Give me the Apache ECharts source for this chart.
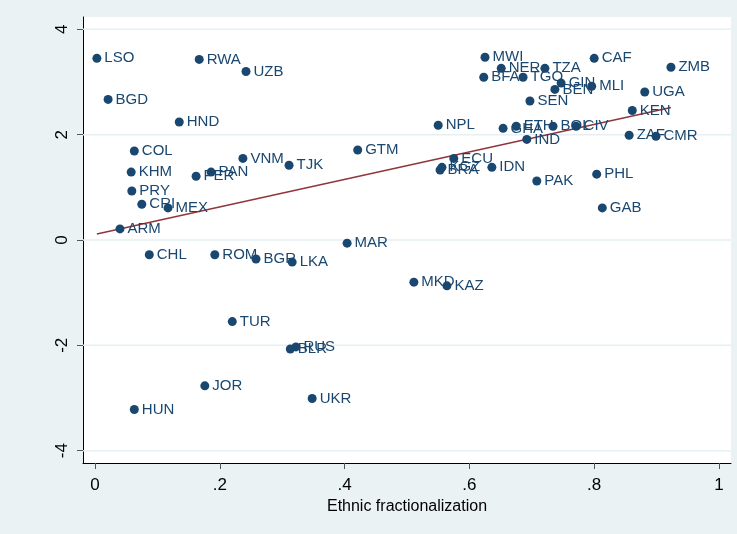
<!DOCTYPE html>
<html>
<head>
<meta charset="utf-8">
<script src="https://cdn.jsdelivr.net/npm/echarts@6/dist/echarts.min.js"></script>
<style>html,body{margin:0;padding:0;background:#eaf2f3;}#c{width:737px;height:534px;}</style>
</head>
<body>
<div id="c"></div>
<script>
const countries = ["LSO","RWA","UZB","BGD","HND","COL","KHM","PRY","CRI","MEX","ARM","PER","PAN","VNM","TJK","GTM","CHL","ROM","BGR","LKA","MAR","MKD","KAZ","TUR","RUS","BLR","JOR","UKR","HUN","NPL","MWI","NER","BFA","TGO","TZA","CAF","GIN","BEN","MLI","SEN","ZMB","UGA","KEN","GHA","ETH","BOL","CIV","IND","ZAF","CMR","PHL","GAB","PAK","ECU","KGZ","BRA","IDN"];
const ethnicFrac = [0.003,0.167,0.242,0.021,0.135,0.063,0.058,0.059,0.075,0.117,0.040,0.162,0.186,0.237,0.311,0.421,0.087,0.192,0.258,0.316,0.404,0.511,0.564,0.220,0.322,0.313,0.176,0.348,0.063,0.550,0.625,0.651,0.623,0.686,0.721,0.800,0.747,0.737,0.796,0.697,0.923,0.881,0.861,0.654,0.675,0.734,0.771,0.692,0.856,0.899,0.804,0.813,0.708,0.575,0.556,0.553,0.636];
const yValues = [3.45,3.43,3.20,2.67,2.24,1.69,1.29,0.93,0.68,0.61,0.21,1.21,1.29,1.55,1.42,1.71,-0.28,-0.28,-0.36,-0.42,-0.06,-0.80,-0.87,-1.55,-2.03,-2.07,-2.77,-3.01,-3.22,2.18,3.47,3.26,3.09,3.09,3.26,3.45,2.98,2.86,2.92,2.64,3.28,2.81,2.46,2.12,2.16,2.16,2.16,1.91,1.99,1.97,1.25,0.61,1.12,1.55,1.38,1.33,1.38];
const xTicks = [0,0.2,0.4,0.6,0.8,1];
const yTicks = [-4,-2,0,2,4];
const xLabel = "Ethnic fractionalization";

const X_MIN = -0.01923, X_MAX = 1.01923, Y_MIN = -4.235, Y_MAX = 4.235;

// linear fit (least squares) drawn over the data range
const n = ethnicFrac.length;
let mx = 0, my = 0;
for (let i = 0; i < n; i++) { mx += ethnicFrac[i]; my += yValues[i]; }
mx /= n; my /= n;
let sxy = 0, sxx = 0;
for (let i = 0; i < n; i++) { sxy += (ethnicFrac[i]-mx)*(yValues[i]-my); sxx += (ethnicFrac[i]-mx)**2; }
const slope = sxy / sxx, icpt = my - slope*mx;
const xmin = Math.min(...ethnicFrac), xmax = Math.max(...ethnicFrac);
const fitData = [[xmin, icpt + slope*xmin], [xmax, icpt + slope*xmax]];

const pts = ethnicFrac.map((x,i) => ({value:[x, yValues[i]], name: countries[i]}));
const fmtX = v => { if (v === 0) return '0'; if (Math.abs(v-1) < 1e-9) return '1'; return v.toFixed(1).replace(/^0/, ''); };

const gridSeries = yTicks.map(v => ({
  type: 'line', data: [[X_MIN, v], [X_MAX, v]], showSymbol: false, silent: true, z: 1,
  clip: false, lineStyle: {color: '#e6eff1', width: 1.5}
}));

const chart = echarts.init(document.getElementById('c'), null, {renderer:'canvas'});
chart.setOption({
  backgroundColor: '#eaf2f3',
  animation: false,
  textStyle: {fontFamily: 'Liberation Sans, Arial, sans-serif'},
  grid: {left: 83, right: 6, top: 17, bottom: 71, show: true, backgroundColor: '#ffffff', borderWidth: 0, containLabel: false},
  xAxis: {
    type: 'value', min: X_MIN, max: X_MAX,
    name: xLabel, nameLocation: 'middle', nameGap: 31,
    nameTextStyle: {color: '#000', fontSize: 16, fontFamily: 'Liberation Sans, Arial, sans-serif'},
    axisLine: {show: true, onZero: false, lineStyle: {color: '#000', width: 1}},
    axisTick: {show: true, customValues: xTicks, length: 6, lineStyle: {color: '#555'}},
    axisLabel: {customValues: xTicks, formatter: fmtX, color: '#000', fontSize: 17, margin: 14},
    splitLine: {show: false}
  },
  yAxis: {
    type: 'value', min: Y_MIN, max: Y_MAX,
    axisLine: {show: true, onZero: false, lineStyle: {color: '#000', width: 1}},
    axisTick: {show: true, customValues: yTicks, length: 6, lineStyle: {color: '#555'}},
    axisLabel: {customValues: yTicks, formatter: v => String(v), rotate: 90, color: '#000', fontSize: 17, margin: 12},
    splitLine: {show: false}
  },
  series: gridSeries.concat([
    {
      type: 'line', data: fitData, showSymbol: false, silent: true, z: 3,
      lineStyle: {color: '#90353b', width: 1.5}
    },
    {
      type: 'scatter', data: pts, symbol: 'circle', symbolSize: 9, z: 4,
      itemStyle: {color: '#1a476f', opacity: 1},
      label: {show: true, position: 'right', distance: 3, offset: [0, 1.5], formatter: p => p.name, color: '#1a476f', fontSize: 15, fontFamily: 'Liberation Sans, Arial, sans-serif'},
      labelLayout: {hideOverlap: false}
    }
  ])
});
</script>
</body>
</html>
